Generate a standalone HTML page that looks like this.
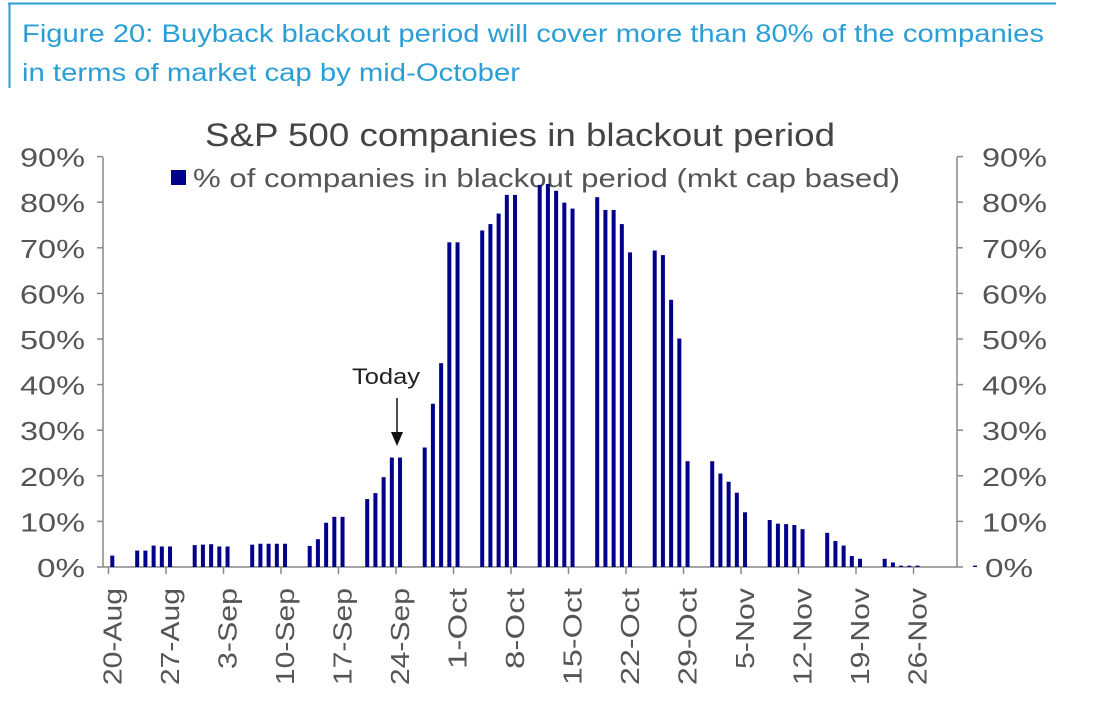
<!DOCTYPE html>
<html><head><meta charset="utf-8"><style>
body{margin:0;background:#fff;}
svg{display:block;font-family:"Liberation Sans",Arial,sans-serif;}
</style></head><body>
<svg id="s" width="1093" height="710" viewBox="0 0 1093 710" xmlns="http://www.w3.org/2000/svg">
<rect width="1093" height="710" fill="#fff"/>
<line x1="8" y1="3.5" x2="1056" y2="3.5" stroke="#2a9fd6" stroke-width="2"/>
<line x1="9.5" y1="3" x2="9.5" y2="88" stroke="#2a9fd6" stroke-width="2"/>
<text x="22" y="42" font-size="25" fill="#2a9fd6" textLength="1022" lengthAdjust="spacingAndGlyphs">Figure 20: Buyback blackout period will cover more than 80% of the companies</text>
<text x="22" y="81" font-size="25" fill="#2a9fd6" textLength="498" lengthAdjust="spacingAndGlyphs">in terms of market cap by mid-October</text>
<text x="205" y="146" font-size="32" fill="#444" textLength="630" lengthAdjust="spacingAndGlyphs">S&amp;P 500 companies in blackout period</text>
<rect x="171" y="170" width="15" height="15" fill="#00008b"/>
<text x="193" y="187" font-size="26" fill="#555" textLength="707" lengthAdjust="spacingAndGlyphs">% of companies in blackout period (mkt cap based)</text>
<g id="g" stroke="#888" stroke-width="1.5" fill="none"></g>
<g id="b" fill="#00008b"></g>
<g id="t" font-size="26" fill="#555"></g>
<text x="352" y="384" font-size="22" fill="#222" textLength="68" lengthAdjust="spacingAndGlyphs">Today</text>
<line x1="397" y1="398" x2="397" y2="438" stroke="#111" stroke-width="1.5"/>
<polygon points="391,432 403,432 397,446" fill="#111"/>
</svg>
<script>
var ns="http://www.w3.org/2000/svg",g=document.getElementById('g'),b=document.getElementById('b'),t=document.getElementById('t');
function el(p,n,a,tx){var e=document.createElementNS(ns,n);for(var k in a)e.setAttribute(k,a[k]);if(tx)e.textContent=tx;p.appendChild(e);return e;}
var y0=567,u=4.56;
el(g,'line',{x1:103,y1:157,x2:103,y2:567});
el(g,'line',{x1:957,y1:157,x2:957,y2:567});
el(g,'line',{x1:103,y1:567,x2:957,y2:567});
for(var i=0;i<=9;i++){var y=y0-i*10*u;var s=i*10+'%';var w=s.length==3?65:48;
el(g,'line',{x1:97,y1:y,x2:103,y2:y});el(g,'line',{x1:957,y1:y,x2:963,y2:y});
el(t,'text',{x:85-w,y:y+10,textLength:w,lengthAdjust:'spacingAndGlyphs'},s);
el(t,'text',{x:(i==0?985:982),y:y+10,textLength:w,lengthAdjust:'spacingAndGlyphs'},s);}
var labs=['20-Aug','27-Aug','3-Sep','10-Sep','17-Sep','24-Sep','1-Oct','8-Oct','15-Oct','22-Oct','29-Oct','5-Nov','12-Nov','19-Nov','26-Nov'];
for(var k=0;k<15;k++){var x=108.5+57.5*k;var w=labs[k].length*16.2;
el(g,'line',{x1:x,y1:567,x2:x,y2:574});
el(t,'text',{x:-w,y:0,textLength:w,lengthAdjust:'spacingAndGlyphs',transform:'translate('+(x+13)+',588) rotate(-90)'},labs[k]);}
var H=[[2.5],
[3.6,3.6,4.7,4.5,4.5],[4.8,4.9,5.0,4.5,4.5],[4.9,5.1,5.1,5.1,5.1],[4.6,6.1,9.7,11.0,11.0],
[14.9,16.2,19.7,24.0,24.0],[26.2,35.8,44.7,71.2,71.2],[73.8,75.2,77.5,81.6,81.6],
[83.8,84.0,82.5,79.9,78.6],[81.1,78.3,78.3,75.2,69.0],[69.4,68.4,58.6,50.1,23.2],
[23.2,20.5,18.7,16.3,12.0],[10.3,9.5,9.4,9.2,8.3],[7.5,5.7,4.7,2.4,1.8],[1.8,1.0,0.3,0.3,0.3],[0,0,0,0,0.3]];
function bar(x,h){if(h<=0)return;el(b,'rect',{x:x-2,y:y0-h*u,width:4,height:h*u});}
bar(112.3,2.5);
for(var k=0;k<15;k++){var s=137.2+57.5*k;for(var j=0;j<5;j++)bar(s+8.21*j,H[k+1][j]);}
</script>
</body></html>
